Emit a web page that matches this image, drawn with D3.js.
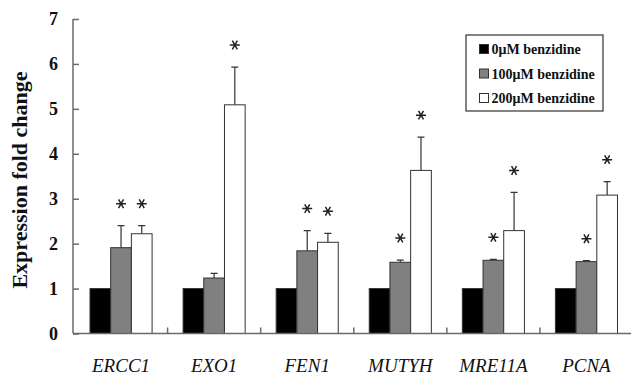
<!DOCTYPE html>
<html>
<head>
<meta charset="utf-8">
<script src="https://cdn.jsdelivr.net/npm/d3@7.9.0/dist/d3.min.js"></script>
<style>
  body { margin: 0; background: #fff; }
  svg { display: block; font-family: "Liberation Serif", "Times New Roman", serif; }
</style>
</head>
<body>
<svg id="chart" width="631" height="377"></svg>
<script>
const genes = ["ERCC1", "EXO1", "FEN1", "MUTYH", "MRE11A", "PCNA"];
const series = ["0\u03bcM benzidine", "100\u03bcM benzidine", "200\u03bcM benzidine"];
const yTicks = [0, 1, 2, 3, 4, 5, 6, 7];

// fold change per gene, one array per dose
const dose0 = [1, 1, 1, 1, 1, 1];
const dose100 = [1.91, 1.235, 1.84, 1.585, 1.63, 1.60];
const dose200 = [2.22, 5.09, 2.03, 3.63, 2.29, 3.08];
const err0 = [0, 0, 0, 0, 0, 0];
const err100 = [0.49, 0.105, 0.45, 0.05, 0.02, 0.02];
const err200 = [0.18, 0.84, 0.20, 0.74, 0.85, 0.30];
// significance marks (*)
const sig0 = [false, false, false, false, false, false];
const sig100 = [true, false, true, true, true, true];
const sig200 = [true, true, true, true, true, true];

const fills = ["#000000", "#808080", "#ffffff"];

const svg = d3.select("#chart");

const x = d3.scaleBand().domain(genes).range([74.5, 633]);
const x1 = d3.scaleBand().domain(series)
  .range([15.5, x.bandwidth() - 15.5]);
const y = d3.scaleLinear().domain([0, 7]).range([333.5, 19]);

const rows = genes.map((g, i) => ({
  gene: g,
  vals: [
    { s: series[0], v: dose0[i], e: err0[i], sig: sig0[i], k: 0 },
    { s: series[1], v: dose100[i], e: err100[i], sig: sig100[i], k: 1 },
    { s: series[2], v: dose200[i], e: err200[i], sig: sig200[i], k: 2 }
  ]
}));

const axisColor = "#6a6a6a";

// bars
const groups = svg.append("g").selectAll("g")
  .data(rows).enter().append("g")
  .attr("transform", d => `translate(${x(d.gene)},0)`);

// error bars (upward only)
groups.selectAll(".err")
  .data(d => d.vals.filter(v => v.e > 0))
  .enter().append("path")
  .attr("fill", "none")
  .attr("stroke", "#333")
  .attr("stroke-width", 1.2)
  .attr("d", d => {
    const cx = x1(d.s) + x1.bandwidth() / 2;
    const top = y(d.v + d.e);
    return `M${cx},${y(d.v)}V${top}M${cx - 3.5},${top}H${cx + 3.5}`;
  });

groups.selectAll("rect")
  .data(d => d.vals)
  .enter().append("rect")
  .attr("x", d => x1(d.s))
  .attr("y", d => y(d.v))
  .attr("width", x1.bandwidth())
  .attr("height", d => y(0) - y(d.v))
  .attr("fill", d => fills[d.k])
  .attr("stroke", "#333")
  .attr("stroke-width", 1);

// stars, six arms
const starPath = (() => {
  const r = 5;
  return [0, 60, 120].map(a => {
    const t = a * Math.PI / 180;
    const dx = r * Math.cos(t), dy = r * Math.sin(t);
    return `M${-dx},${-dy}L${dx},${dy}`;
  }).join("");
})();
groups.selectAll(".star")
  .data(d => d.vals.filter(v => v.sig))
  .enter().append("path")
  .attr("transform", d => `translate(${x1(d.s) + x1.bandwidth() / 2},${y(d.v + d.e) - 22})`)
  .attr("d", starPath)
  .attr("stroke", "#222")
  .attr("stroke-width", 1.5)
  .attr("fill", "none");

// y axis
const yAxis = svg.append("g")
  .attr("transform", "translate(73,0)")
  .call(d3.axisRight(y).tickValues(yTicks).tickSize(6).tickFormat(d3.format("d")));
yAxis.select(".domain").attr("stroke", axisColor).attr("stroke-width", 1.5)
  .attr("d", `M0,${y(7)}V${y(0)}`);
yAxis.selectAll(".tick line").attr("stroke", axisColor).attr("stroke-width", 1.5);
yAxis.selectAll(".tick text")
  .attr("x", -15)
  .attr("text-anchor", "end")
  .attr("font-family", "Liberation Serif, serif")
  .attr("font-weight", "bold")
  .attr("font-size", "18px")
  .attr("fill", "#111");

// x axis
const xAxis = svg.append("g").attr("transform", `translate(0,${y(0)})`);
xAxis.append("line")
  .attr("x1", 73).attr("x2", 631)
  .attr("stroke", axisColor).attr("stroke-width", 1.5);
xAxis.selectAll(".sep")
  .data(genes.slice(1))
  .enter().append("line")
  .attr("x1", d => x(d)).attr("x2", d => x(d))
  .attr("y1", 0).attr("y2", -6)
  .attr("stroke", axisColor).attr("stroke-width", 1.5);
xAxis.selectAll(".lbl")
  .data(genes)
  .enter().append("text")
  .attr("x", d => x(d) + x.bandwidth() / 2)
  .attr("y", 38)
  .attr("text-anchor", "middle")
  .attr("font-style", "italic")
  .attr("font-size", "19px")
  .attr("fill", "#111")
  .text(d => d);

// y label
svg.append("text")
  .attr("transform", "translate(27,180) rotate(-90)")
  .attr("text-anchor", "middle")
  .attr("font-weight", "bold")
  .attr("font-size", "22px")
  .attr("fill", "#111")
  .text("Expression fold change");

// legend
const legend = svg.append("g").attr("transform", "translate(466,35)");
legend.append("rect")
  .attr("width", 137).attr("height", 76)
  .attr("fill", "#fff")
  .attr("stroke", "#333").attr("stroke-width", 1.2);
series.forEach((s, i) => {
  const cy = 14 + i * 24.5;
  legend.append("rect")
    .attr("x", 13.5).attr("y", cy - 4.5)
    .attr("width", 9).attr("height", 9)
    .attr("fill", fills[i])
    .attr("stroke", "#333").attr("stroke-width", 1);
  legend.append("text")
    .attr("x", 25.5).attr("y", cy + 5)
    .attr("font-weight", "bold")
    .attr("font-size", "14px")
    .attr("fill", "#111")
    .text(s);
});
</script>
</body>
</html>
